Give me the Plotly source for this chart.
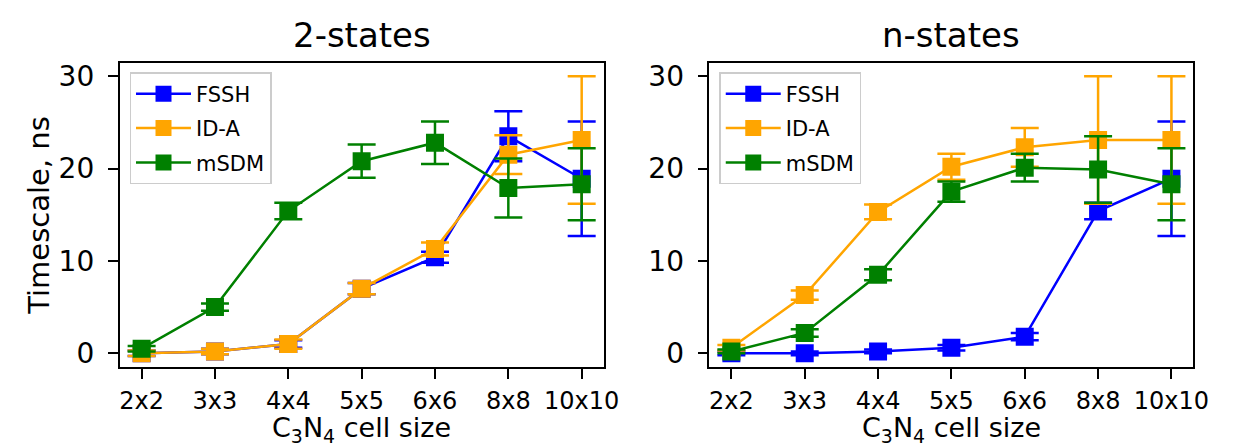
import plotly.graph_objects as go

categories = ["2x2", "3x3", "4x4", "5x5", "6x6", "8x8", "10x10"]
methods = ["FSSH", "ID-A", "mSDM"]
colors = ["#0000ff", "#ffa500", "#008000"]
y_ticks = [0, 10, 20, 30]

# 2-states panel
two_fssh = [0.0, 0.2, 1.0, 7.0, 10.4, 23.5, 18.9]
two_fssh_err = [0.3, 0.3, 0.4, 0.6, 0.6, 2.7, 6.2]
two_ida = [0.0, 0.2, 1.0, 7.0, 11.3, 21.5, 23.1]
two_ida_err = [0.3, 0.3, 0.5, 0.6, 0.7, 2.1, 6.9]
two_msdm = [0.5, 5.0, 15.4, 20.8, 22.8, 17.9, 18.3]
two_msdm_err = [0.3, 0.4, 0.9, 1.8, 2.3, 3.2, 3.9]

# n-states panel
n_fssh = [0.0, 0.0, 0.2, 0.6, 1.8, 15.4, 18.9]
n_fssh_err = [0.2, 0.2, 0.2, 0.3, 0.4, 0.9, 6.2]
n_ida = [0.6, 6.3, 15.3, 20.2, 22.3, 23.1, 23.1]
n_ida_err = [0.3, 0.5, 0.8, 1.4, 2.1, 6.9, 6.9]
n_msdm = [0.2, 2.2, 8.5, 17.5, 20.1, 19.9, 18.3]
n_msdm_err = [0.2, 0.4, 0.6, 1.1, 1.5, 3.6, 3.9]

panels = [
    ("2-states", [two_fssh, two_ida, two_msdm], [two_fssh_err, two_ida_err, two_msdm_err]),
    ("n-states", [n_fssh, n_ida, n_msdm], [n_fssh_err, n_ida_err, n_msdm_err]),
]

FONT = "DejaVu Sans"
W, H = 1235, 445


def px(X):
    return X / W


def py(Y):
    return 1 - Y / H


xdoms = [[px(113), px(603)], [px(710), px(1200)]]
ydom = [py(361), py(53)]

fig = go.Figure()
xpos = list(range(len(categories)))
for p, (title, series, errs) in enumerate(panels):
    xa = "x" if p == 0 else "x2"
    ya = "y" if p == 0 else "y2"
    lg = "legend" if p == 0 else "legend2"
    for m, name in enumerate(methods):
        fig.add_trace(go.Scatter(
            x=xpos, y=series[m], name=name, mode="lines+markers",
            xaxis=xa, yaxis=ya, legend=lg, legendgroup=f"{p}{name}",
            line=dict(color=colors[m], width=2.5),
            marker=dict(symbol="square", size=18, color=colors[m]),
            error_y=dict(type="data", array=errs[m], visible=True,
                         color=colors[m], thickness=2.5, width=14),
        ))

axis_common = dict(
    showline=True, linecolor="black", linewidth=1.6, mirror=True,
    ticks="outside", ticklen=10, tickwidth=1.6, tickcolor="black",
    showgrid=False, zeroline=False,
)

for p in range(2):
    sx = "" if p == 0 else "2"
    fig.layout["xaxis" + sx] = dict(
        axis_common, domain=xdoms[p], anchor="y" + sx,
        range=[-0.3, 6.3], tickvals=xpos, ticktext=categories,
        ticklabelstandoff=1,
        tickfont=dict(family=FONT, size=24, color="black"),
    )
    fig.layout["yaxis" + sx] = dict(
        axis_common, domain=ydom, anchor="x" + sx,
        range=[-1.5, 31.4], tickvals=y_ticks, ticklabelstandoff=8,
        tickfont=dict(family=FONT, size=28, color="black"),
    )

legend_common = dict(
    font=dict(family=FONT, size=21, color="black"),
    bgcolor="rgba(255,255,255,0.85)", bordercolor="#cccccc", borderwidth=1.5,
    xanchor="left", yanchor="top", y=py(62),
    tracegroupgap=4, itemwidth=55,
)
fig.update_layout(
    legend=dict(legend_common, x=px(123)),
    legend2=dict(legend_common, x=px(720)),
)

annotations = []
for p, (title, _, _) in enumerate(panels):
    cx = (xdoms[p][0] + xdoms[p][1]) / 2
    annotations.append(dict(
        text=title, x=cx, y=py(24), xref="paper", yref="paper",
        showarrow=False, xanchor="center", yanchor="middle",
        font=dict(family=FONT, size=34, color="black"),
    ))
    annotations.append(dict(
        text="C<sub>3</sub>N<sub>4</sub> cell size", x=cx, y=py(424),
        xref="paper", yref="paper", showarrow=False,
        xanchor="center", yanchor="middle",
        font=dict(family=FONT, size=27, color="black"),
    ))
annotations.append(dict(
    text="Timescale, ns", x=px(32), y=(ydom[0] + ydom[1]) / 2,
    xref="paper", yref="paper", showarrow=False, textangle=-90,
    xanchor="center", yanchor="middle",
    font=dict(family=FONT, size=29, color="black"),
))

fig.update_layout(
    width=W, height=H, margin=dict(l=0, r=0, t=0, b=0),
    paper_bgcolor="white", plot_bgcolor="white",
    annotations=annotations, showlegend=True,
    font=dict(family=FONT, color="black"),
)

fig.write_html("out.html")
